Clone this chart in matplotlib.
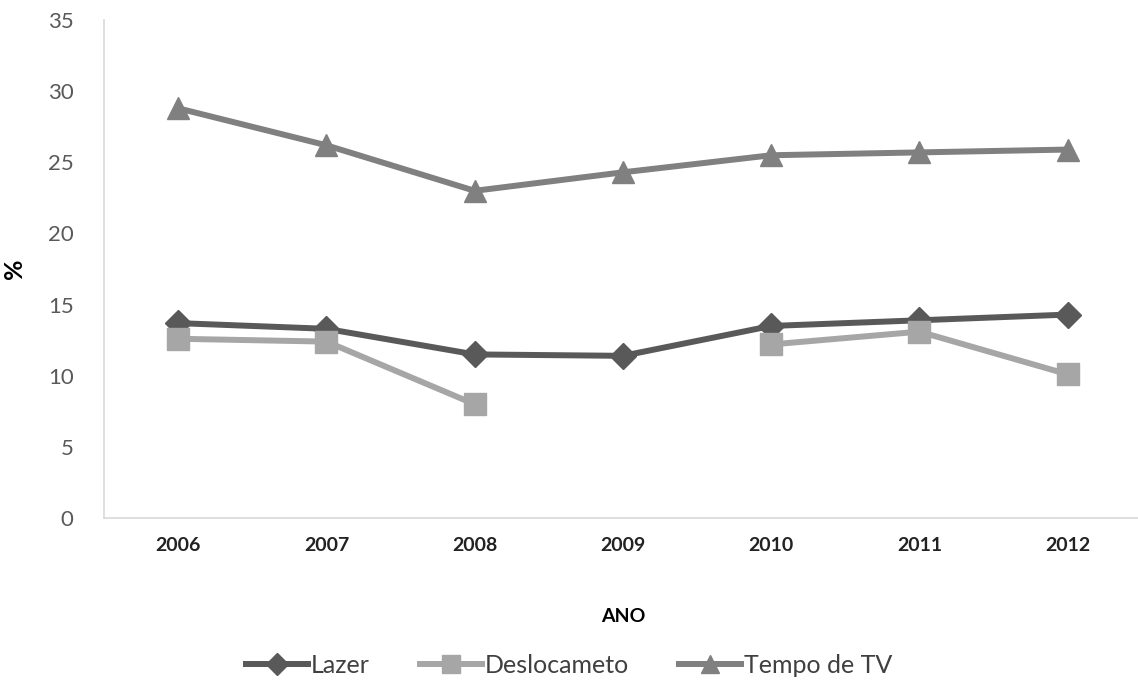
#!/usr/bin/env python3

import numpy as np
import matplotlib
matplotlib.use("Agg")
import matplotlib.pyplot as plt

plt.rcParams['font.family'] = ['Lato', 'DejaVu Sans']

anos = ["2006", "2007", "2008", "2009", "2010", "2011", "2012"]
lazer = [13.7, 13.3, 11.5, 11.4, 13.5, 13.9, 14.3]
deslocamento = [12.6, 12.4, 8.0, np.nan, 12.2, 13.1, 10.1]
tempo_tv = [28.8, 26.2, 23.0, 24.3, 25.5, 25.7, 25.9]

fig = plt.figure(figsize=(11.38, 6.93), dpi=100)
ax = fig.add_axes([0.0914, 0.2525, 0.912, 0.7185])

x = np.arange(len(anos))
ax.plot(x, lazer, color="#595959", lw=4.3, marker="D", ms=13, label="Lazer")
ax.plot(x, deslocamento, color="#a6a6a6", lw=4.3, marker="s", ms=16, label="Deslocameto")
ax.plot(x, tempo_tv, color="#808080", lw=4.3, marker="^", ms=16, label="Tempo de TV")

ax.set_xlim(-0.5, 6.5)
ax.set_ylim(0, 35)
ax.set_yticks(range(0, 36, 5))
ax.set_xticks(x)
ax.set_xticklabels(anos, fontweight="bold", fontsize=14, color="#222222")
ax.tick_params(axis="y", labelsize=16, labelcolor="#595959", length=0, pad=22)
ax.tick_params(axis="x", length=0, pad=14)

for s in ["top", "right"]:
    ax.spines[s].set_visible(False)
for s in ["left", "bottom"]:
    ax.spines[s].set_color("#d9d9d9")
    ax.spines[s].set_linewidth(1.2)

ax.set_ylabel("%", fontweight="bold", fontsize=18)
ax.yaxis.set_label_coords(-0.075, 0.5)
ax.set_xlabel("ANO", fontweight="bold", fontsize=14)
ax.xaxis.set_label_coords(0.5, -0.18)

handles, labels = ax.get_legend_handles_labels()
fig.legend(handles, labels, loc="center", bbox_to_anchor=(0.5, 0.04), ncol=3,
           frameon=False, fontsize=18, handlelength=2.5, handletextpad=0.1,
           columnspacing=2.0, labelcolor="#404040", markerscale=0.85)

fig.savefig("out.png", dpi=100)
